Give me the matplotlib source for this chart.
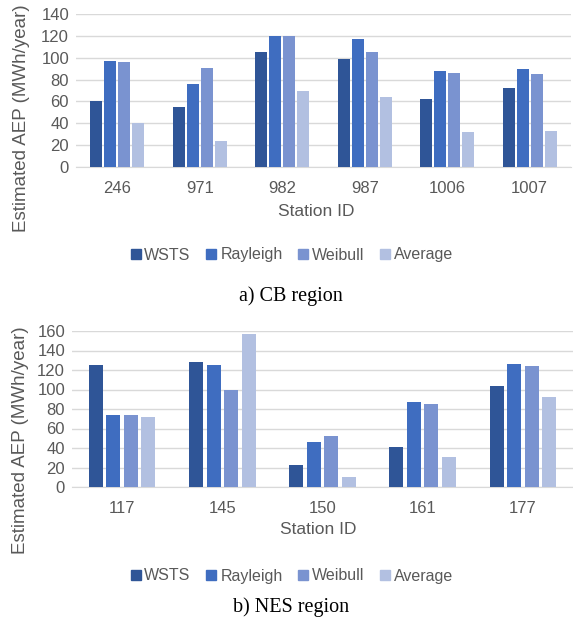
import numpy as np
import matplotlib
matplotlib.use('Agg')
import matplotlib.pyplot as plt
from matplotlib.lines import Line2D

plt.rcParams['font.family'] = ['Liberation Sans', 'DejaVu Sans']

# Data
series = ['WSTS', 'Rayleigh', 'Weibull', 'Average']
colors = ['#2F5597', '#3F6DC0', '#7A93D0', '#B2C0E1']

cb_stations = ['246', '971', '982', '987', '1006', '1007']
cb_wsts = [60, 55, 105, 99, 62, 72]
cb_rayleigh = [97, 76, 120, 117, 88, 90]
cb_weibull = [96, 91, 120, 105, 86, 85]
cb_average = [40, 24, 70, 64, 32, 33]

nes_stations = ['117', '145', '150', '161', '177']
nes_wsts = [125, 128, 23, 41, 104]
nes_rayleigh = [74, 125, 46, 87, 126]
nes_weibull = [74, 100, 52, 85, 124]
nes_average = [72, 157, 10, 31, 92]

W, H = 573, 626
GREY = '#595959'


def px(x, y):
    """pixel coords (from top-left) -> figure fraction"""
    return x / W, 1 - y / H


def draw_panel(fig, rect, stations, values, ymax, slot, bar_w):
    left, top, right, bottom = rect
    ax = fig.add_axes([left / W, 1 - bottom / H, (right - left) / W,
                       (bottom - top) / H])
    x = np.arange(len(stations))
    for i, (vals, c) in enumerate(zip(values, colors)):
        ax.bar(x + (i - 1.5) * slot, vals, width=bar_w, color=c, zorder=3)
    ax.set_xlim(-0.5, len(stations) - 0.5)
    ax.set_ylim(0, ymax)
    ax.set_yticks(np.arange(0, ymax + 1, 20))
    ax.set_xticks(x)
    ax.set_xticklabels(stations)
    ax.grid(axis='y', color='#D9D9D9', linewidth=1, zorder=0)
    for s in ['top', 'right', 'left']:
        ax.spines[s].set_visible(False)
    ax.spines['bottom'].set_color('#D9D9D9')
    ax.tick_params(length=0, labelsize=12, labelcolor=GREY)
    ax.tick_params(axis='x', pad=10)
    ax.tick_params(axis='y', pad=5)
    return ax


def legend_and_caption(fig, y_leg, y_cap, caption):
    # small square markers, centred on the text like the reference
    handles = [Line2D([], [], linestyle='none', marker='s', markersize=6.5,
                      color=c, label=s) for s, c in zip(series, colors)]
    fig.legend(handles=handles, loc='center', bbox_to_anchor=px(292, y_leg),
               ncol=4, frameon=False, fontsize=11.5, labelcolor=GREY,
               handlelength=0.6, handletextpad=0.25, columnspacing=1.0)
    fig.text(*px(291, y_cap), caption, ha='center', va='center',
             fontsize=14.5, family='Liberation Serif', color='black')


def main():
    fig = plt.figure(figsize=(W / 100, H / 100), dpi=100)

    draw_panel(fig, (76, 14, 571, 167), cb_stations,
               [cb_wsts, cb_rayleigh, cb_weibull, cb_average],
               140, 0.17, 0.145)
    fig.text(*px(22, 118), 'Estimated AEP (MWh/year)', rotation=90,
             ha='center', va='center', fontsize=13.5, color=GREY)
    fig.text(*px(316, 212), 'Station ID', ha='center', va='center',
             fontsize=12.5, color=GREY)
    legend_and_caption(fig, 255, 296, 'a) CB region')

    draw_panel(fig, (72, 331, 573, 487), nes_stations,
               [nes_wsts, nes_rayleigh, nes_weibull, nes_average],
               160, 0.175, 0.14)
    fig.text(*px(21, 440), 'Estimated AEP (MWh/year)', rotation=90,
             ha='center', va='center', fontsize=13.5, color=GREY)
    fig.text(*px(318, 529), 'Station ID', ha='center', va='center',
             fontsize=12.5, color=GREY)
    legend_and_caption(fig, 576, 607, 'b) NES region')

    fig.savefig('out.png', dpi=100)


if __name__ == "__main__":
    main()
